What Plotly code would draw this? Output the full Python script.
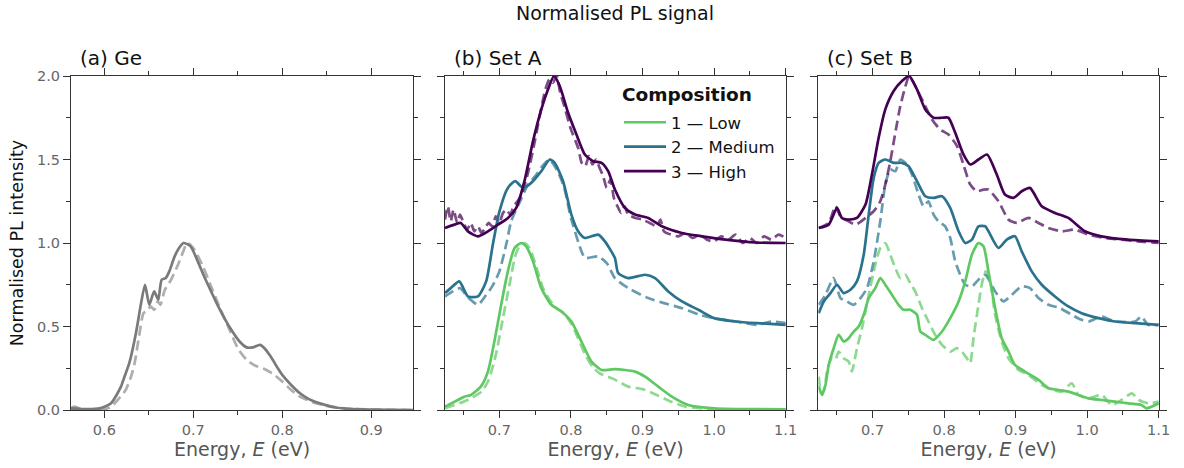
import plotly.graph_objects as go

# ---------------------------------------------------------------------------
# Normalised PL spectra (energy in eV, intensity normalised to peak = 1).
# Series "1" is drawn solid, series "2" dashed.
# ---------------------------------------------------------------------------

# (a) Ge reference
ge_E1 = [0.5625, 0.58, 0.595, 0.6075, 0.6187, 0.622, 0.628, 0.6355, 0.641, 0.6457,
         0.6505, 0.656, 0.6606, 0.6644, 0.669, 0.673, 0.679, 0.684, 0.689, 0.697,
         0.705, 0.713, 0.72, 0.728, 0.736, 0.744, 0.752, 0.76, 0.767, 0.775,
         0.78, 0.787, 0.795, 0.80, 0.81, 0.82, 0.83, 0.845, 0.86, 0.88,
         0.90, 0.947]
ge_I1 = [0.01, 0.005, 0.01, 0.04, 0.14, 0.19, 0.28, 0.46, 0.63, 0.75,
         0.63, 0.71, 0.66, 0.78, 0.79, 0.83, 0.92, 0.97, 1.00, 0.98,
         0.89, 0.79, 0.71, 0.62, 0.54, 0.47, 0.41, 0.375, 0.375, 0.39,
         0.37, 0.32, 0.25, 0.21, 0.15, 0.10, 0.065, 0.035, 0.015, 0.005,
         0.002, 0.0]
ge_E2 = [0.5625, 0.566, 0.575, 0.59, 0.60, 0.608, 0.615, 0.624, 0.630, 0.634,
         0.639, 0.644, 0.6475, 0.652, 0.656, 0.66, 0.663, 0.668, 0.675, 0.682,
         0.688, 0.693, 0.70, 0.71, 0.72, 0.73, 0.74, 0.75, 0.76, 0.77,
         0.78, 0.79, 0.80, 0.81, 0.82, 0.835, 0.85, 0.87, 0.90, 0.947]
ge_I2 = [0.01, 0.02, 0.005, 0.0, 0.005, 0.02, 0.06, 0.12, 0.20, 0.28,
         0.44, 0.58, 0.59, 0.62, 0.60, 0.65, 0.63, 0.72, 0.78, 0.86,
         0.94, 1.0, 0.97, 0.87, 0.74, 0.61, 0.49, 0.37, 0.30, 0.265,
         0.245, 0.215, 0.17, 0.12, 0.08, 0.045, 0.025, 0.01, 0.003, 0.0]

# (b) Set A
a_low_E1 = [0.624, 0.642, 0.651, 0.660, 0.674, 0.684, 0.693, 0.7025, 0.7118, 0.7212,
            0.7305, 0.7375, 0.747, 0.7586, 0.7726, 0.7866, 0.8006, 0.8147, 0.8287, 0.8427,
            0.8614, 0.8895, 0.9035, 0.922, 0.941, 0.964, 1.0, 1.1]
a_low_I1 = [0.02, 0.06, 0.08, 0.09, 0.14, 0.23, 0.41, 0.63, 0.83, 0.97,
            1.0, 0.98, 0.89, 0.73, 0.63, 0.59, 0.53, 0.41, 0.29, 0.24,
            0.245, 0.23, 0.20, 0.14, 0.08, 0.03, 0.01, 0.004]
a_low_E2 = [0.624, 0.65, 0.66, 0.675, 0.685, 0.695, 0.705, 0.715, 0.722, 0.728,
            0.735, 0.742, 0.75, 0.76, 0.77, 0.78, 0.79, 0.80, 0.81, 0.82,
            0.83, 0.84, 0.86, 0.88, 0.90, 0.92, 0.94, 0.96, 1.0, 1.1]
a_low_I2 = [0.01, 0.05, 0.07, 0.11, 0.18, 0.33, 0.55, 0.77, 0.92, 0.98,
            1.0, 0.97, 0.88, 0.74, 0.66, 0.61, 0.58, 0.52, 0.43, 0.33,
            0.26, 0.22, 0.185, 0.14, 0.125, 0.09, 0.05, 0.02, 0.005, 0.0]

a_med_E1 = [0.624, 0.632, 0.644, 0.656, 0.670, 0.6815, 0.6908, 0.7001, 0.7118, 0.7221,
            0.733, 0.7445, 0.7586, 0.7703, 0.7773, 0.789, 0.8006, 0.81, 0.8194, 0.838,
            0.8474, 0.8614, 0.866, 0.88, 0.9035, 0.9175, 0.936, 0.955, 0.978, 1.0,
            1.03, 1.06, 1.1]
a_med_I1 = [0.20, 0.23, 0.27, 0.18, 0.18, 0.27, 0.49, 0.69, 0.83, 0.87,
            0.83, 0.86, 0.93, 1.0, 0.98, 0.87, 0.67, 0.57, 0.53, 0.55,
            0.51, 0.41, 0.32, 0.29, 0.31, 0.29, 0.21, 0.15, 0.10, 0.05,
            0.03, 0.02, 0.01]
a_med_E2 = [0.624, 0.635, 0.645, 0.655, 0.67, 0.68, 0.69, 0.70, 0.71, 0.7165,
            0.73, 0.74, 0.75, 0.76, 0.77, 0.78, 0.79, 0.80, 0.8147, 0.82,
            0.838, 0.85, 0.8614, 0.88, 0.908, 0.93, 0.955, 0.98, 1.0, 1.03,
            1.06, 1.08, 1.1]
a_med_I2 = [0.18, 0.21, 0.23, 0.18, 0.13, 0.18, 0.24, 0.33, 0.50, 0.63,
            0.76, 0.85, 0.90, 0.96, 1.0, 0.94, 0.84, 0.65, 0.45, 0.41,
            0.42, 0.38, 0.29, 0.23, 0.17, 0.14, 0.11, 0.07, 0.05, 0.03,
            0.01, 0.03, 0.02]

a_high_E1 = [0.624, 0.637, 0.646, 0.656, 0.670, 0.684, 0.698, 0.712, 0.7235, 0.735,
             0.747, 0.7586, 0.768, 0.7763, 0.7843, 0.796, 0.8077, 0.8194, 0.831, 0.8427,
             0.852, 0.8614, 0.8754, 0.8895, 0.908, 0.927, 0.955, 0.983, 1.016, 1.058,
             1.1]
a_high_I1 = [0.09, 0.11, 0.12, 0.07, 0.04, 0.07, 0.11, 0.15, 0.21, 0.37,
             0.61, 0.80, 0.92, 1.0, 0.94, 0.78, 0.65, 0.53, 0.49, 0.48,
             0.43, 0.32, 0.21, 0.17, 0.15, 0.10, 0.06, 0.04, 0.02, 0.003,
             0.0]
a_high_E2 = [0.624, 0.628, 0.632, 0.636, 0.641, 0.645, 0.65, 0.655, 0.66, 0.665,
             0.67, 0.675, 0.68, 0.685, 0.69, 0.695, 0.70, 0.705, 0.71, 0.715,
             0.72, 0.73, 0.74, 0.75, 0.76, 0.765, 0.77, 0.775, 0.78, 0.785,
             0.79, 0.80, 0.81, 0.815, 0.82, 0.825, 0.83, 0.835, 0.84, 0.845,
             0.85, 0.855, 0.86, 0.865, 0.87, 0.875, 0.88, 0.89, 0.90, 0.91,
             0.92, 0.925, 0.93, 0.94, 0.95, 0.96, 0.97, 0.98, 0.99, 1.0,
             1.01, 1.02, 1.03, 1.04, 1.05, 1.06, 1.07, 1.08, 1.09, 1.1]
a_high_I2 = [0.14, 0.22, 0.13, 0.20, 0.12, 0.17, 0.12, 0.08, 0.12, 0.07,
             0.10, 0.06, 0.09, 0.12, 0.10, 0.16, 0.12, 0.18, 0.20, 0.17,
             0.22, 0.28, 0.42, 0.62, 0.84, 0.93, 0.98, 0.96, 1.0, 0.90,
             0.83, 0.68, 0.57, 0.48, 0.46, 0.52, 0.47, 0.50, 0.45, 0.40,
             0.33, 0.38, 0.27, 0.22, 0.18, 0.22, 0.17, 0.15, 0.14, 0.12,
             0.10, 0.14, 0.07, 0.05, 0.04, 0.06, 0.03, 0.05, 0.02, 0.01,
             0.04, 0.02, 0.05, 0.00, 0.03, 0.00, 0.04, 0.02, 0.05, 0.03]

# (c) Set B
b_low_E1 = [0.6246, 0.6293, 0.634, 0.6386, 0.6455, 0.6525, 0.6595, 0.6665, 0.6735, 0.6805,
            0.6875, 0.6945, 0.7037, 0.7107, 0.7177, 0.727, 0.7363, 0.7433, 0.7526, 0.762,
            0.7666, 0.7736, 0.7852, 0.797, 0.8085, 0.8202, 0.8295, 0.8388, 0.848, 0.855,
            0.862, 0.8713, 0.8806, 0.89, 0.899, 0.913, 0.932, 0.946, 0.96, 0.9737,
            0.9877, 1.0017, 1.0203, 1.039, 1.058, 1.076, 1.083, 1.1]
b_low_I1 = [0.14, 0.09, 0.15, 0.27, 0.37, 0.45, 0.41, 0.43, 0.47, 0.50,
            0.57, 0.67, 0.73, 0.79, 0.75, 0.69, 0.63, 0.60, 0.60, 0.57,
            0.47, 0.45, 0.42, 0.47, 0.55, 0.65, 0.77, 0.93, 1.0, 0.98,
            0.83, 0.61, 0.43, 0.35, 0.27, 0.23, 0.18, 0.13, 0.12, 0.11,
            0.09, 0.07, 0.06, 0.05, 0.04, 0.03, 0.01, 0.04]
b_low_E2 = [0.6246, 0.628, 0.632, 0.637, 0.6432, 0.648, 0.6525, 0.6595, 0.6665, 0.671,
            0.6735, 0.6781, 0.6851, 0.6945, 0.7037, 0.7107, 0.7177, 0.7247, 0.7317, 0.7387,
            0.7456, 0.7526, 0.7596, 0.769, 0.778, 0.7875, 0.797, 0.8085, 0.8178, 0.8248,
            0.8318, 0.8364, 0.841, 0.848, 0.853, 0.858, 0.864, 0.8713, 0.8806, 0.89,
            0.904, 0.918, 0.9365, 0.946, 0.9645, 0.9784, 0.9877, 1.0017, 1.0203, 1.0343,
            1.048, 1.0626, 1.072, 1.086, 1.1]
b_low_I2 = [0.20, 0.10, 0.12, 0.25, 0.31, 0.30, 0.35, 0.31, 0.29, 0.23,
            0.27, 0.37, 0.49, 0.69, 0.87, 0.97, 1.0, 0.93, 0.85, 0.79,
            0.81, 0.76, 0.71, 0.61, 0.53, 0.45, 0.39, 0.35, 0.37, 0.35,
            0.31, 0.28, 0.43, 0.63, 0.76, 0.83, 0.78, 0.57, 0.41, 0.31,
            0.24, 0.21, 0.15, 0.13, 0.11, 0.16, 0.09, 0.07, 0.09, 0.03,
            0.06, 0.10, 0.06, 0.04, 0.05]

b_med_E1 = [0.6246, 0.6316, 0.641, 0.6502, 0.6595, 0.669, 0.678, 0.6875, 0.6945, 0.7015,
            0.7084, 0.7177, 0.7294, 0.741, 0.7503, 0.762, 0.7736, 0.7852, 0.797, 0.8085,
            0.8202, 0.8295, 0.8388, 0.848, 0.8574, 0.862, 0.876, 0.8876, 0.899, 0.9085,
            0.9225, 0.9365, 0.955, 0.9737, 0.9923, 1.016, 1.039, 1.067, 1.1]
b_med_I1 = [0.08, 0.15, 0.20, 0.25, 0.20, 0.22, 0.27, 0.43, 0.67, 0.89,
            0.98, 1.0, 0.98, 0.98, 0.96, 0.87, 0.78, 0.77, 0.78, 0.71,
            0.57, 0.50, 0.52, 0.60, 0.60, 0.57, 0.47, 0.52, 0.54, 0.45,
            0.33, 0.25, 0.18, 0.12, 0.08, 0.05, 0.03, 0.02, 0.01]
b_med_E2 = [0.6246, 0.634, 0.6455, 0.655, 0.664, 0.6735, 0.683, 0.6921, 0.7015, 0.7107,
            0.7177, 0.7247, 0.7317, 0.7387, 0.748, 0.755, 0.7643, 0.7712, 0.778, 0.7852,
            0.792, 0.8015, 0.8085, 0.8155, 0.8225, 0.8295, 0.8388, 0.848, 0.8574, 0.8713,
            0.883, 0.8946, 0.9085, 0.92, 0.932, 0.946, 0.962, 0.9784, 0.9923, 1.002,
            1.0203, 1.039, 1.067, 1.076, 1.085, 1.1]
b_med_I2 = [0.13, 0.19, 0.29, 0.17, 0.15, 0.13, 0.17, 0.23, 0.39, 0.63,
            0.85, 0.94, 0.93, 1.0, 0.97, 0.91, 0.79, 0.72, 0.75, 0.67,
            0.63, 0.60, 0.53, 0.39, 0.31, 0.25, 0.24, 0.28, 0.31, 0.21,
            0.15, 0.19, 0.24, 0.23, 0.17, 0.13, 0.11, 0.07, 0.04, 0.03,
            0.06, 0.03, 0.03, 0.06, 0.01, 0.01]

b_high_E1 = [0.6246, 0.6386, 0.6502, 0.657, 0.6665, 0.678, 0.690, 0.699, 0.7084, 0.7177,
             0.7294, 0.741, 0.751, 0.762, 0.7736, 0.7852, 0.797, 0.806, 0.8155, 0.827,
             0.8365, 0.848, 0.86, 0.8736, 0.885, 0.897, 0.9085, 0.92, 0.9365, 0.955,
             0.9737, 0.997, 1.02, 1.057, 1.1]
b_high_I1 = [0.09, 0.11, 0.21, 0.15, 0.14, 0.15, 0.23, 0.41, 0.63, 0.80,
             0.91, 0.97, 1.0, 0.92, 0.80, 0.75, 0.75, 0.75, 0.66, 0.53,
             0.47, 0.50, 0.53, 0.41, 0.29, 0.27, 0.31, 0.33, 0.22, 0.18,
             0.15, 0.07, 0.04, 0.02, 0.01]
b_high_E2 = [0.6246, 0.6386, 0.648, 0.655, 0.6665, 0.676, 0.69, 0.7015, 0.7107, 0.7177,
             0.7247, 0.7317, 0.7387, 0.7466, 0.751, 0.7596, 0.7712, 0.783, 0.7945, 0.806,
             0.818, 0.827, 0.8365, 0.8457, 0.855, 0.862, 0.876, 0.89, 0.9015, 0.918,
             0.932, 0.9457, 0.9645, 0.983, 1.0017, 1.025, 1.048, 1.071, 1.1]
b_high_I2 = [0.09, 0.12, 0.22, 0.16, 0.13, 0.11, 0.15, 0.19, 0.25, 0.35,
             0.49, 0.66, 0.82, 0.95, 1.0, 0.94, 0.84, 0.74, 0.68, 0.65,
             0.58, 0.47, 0.35, 0.31, 0.32, 0.32, 0.25, 0.14, 0.12, 0.15,
             0.12, 0.09, 0.07, 0.08, 0.05, 0.03, 0.02, 0.01, 0.0]

# Composition labels, vertical offsets used to stack the spectra, colours
compositions = ["1 \u2014 Low", "2 \u2014 Medium", "3 \u2014 High"]
offsets = [0.0, 0.5, 1.0]
colors = ["#5ec962", "#2a728e", "#440154"]

panel_titles = ["(a) Ge", "(b) Set A", "(c) Set B"]

FONT = "DejaVu Sans"
AXIS_COLOR = "#333333"
TICK_TEXT = "#666666"

fig = go.Figure()


def add_line(x, y, axis, color, dashed, opacity=1.0, name=None, legend=False):
    fig.add_trace(go.Scatter(
        x=x, y=y, mode="lines", xaxis="x" + axis, yaxis="y" + axis,
        name=name, showlegend=legend, opacity=opacity,
        line=dict(color=color, width=2.7, dash="10px,5px" if dashed else "solid",
                  shape="spline", smoothing=0.6),
        hoverinfo="skip",
    ))


# (a) Ge
add_line(ge_E2, ge_I2, "", "#9a9a9a", True, opacity=0.8)
add_line(ge_E1, ge_I1, "", "#7a7a7a", False)

# (b) and (c): dashed series first, solid on top
set_a = [(a_low_E1, a_low_I1, a_low_E2, a_low_I2),
         (a_med_E1, a_med_I1, a_med_E2, a_med_I2),
         (a_high_E1, a_high_I1, a_high_E2, a_high_I2)]
set_b = [(b_low_E1, b_low_I1, b_low_E2, b_low_I2),
         (b_med_E1, b_med_I1, b_med_E2, b_med_I2),
         (b_high_E1, b_high_I1, b_high_E2, b_high_I2)]

for axis, data, with_legend in (("2", set_a, True), ("3", set_b, False)):
    for i, (E1, I1, E2, I2) in enumerate(data):
        off = offsets[i]
        add_line(E2, [v + off for v in I2], axis, colors[i], True, opacity=0.7)
    for i, (E1, I1, E2, I2) in enumerate(data):
        off = offsets[i]
        add_line(E1, [v + off for v in I1], axis, colors[i], False,
                 name=compositions[i], legend=with_legend)

# Axes ---------------------------------------------------------------------
W, H = 1184, 468
ML, MR, MT, MB = 71, 25, 76, 58
plot_w = W - ML - MR
plot_h = H - MT - MB
doms = [(0, 342), (374, 715), (747.3, plot_w)]
domains = [[a / plot_w, b / plot_w] for a, b in doms]

common_x = dict(
    showline=True, linecolor=AXIS_COLOR, linewidth=1, mirror="ticks",
    ticks="outside", ticklen=7, tickwidth=1, tickcolor=AXIS_COLOR,
    showgrid=False, zeroline=False, tickformat=".1f",
    tickfont=dict(family=FONT, size=14.5, color=TICK_TEXT),
    title=dict(text="Energy, <i>E</i> (eV)", standoff=3,
               font=dict(family=FONT, size=19, color="#555555")),
)
common_y = dict(
    showline=True, linecolor=AXIS_COLOR, linewidth=1, mirror="ticks",
    ticks="outside", ticklen=7, tickwidth=1, tickcolor=AXIS_COLOR,
    showgrid=False, zeroline=False, range=[0, 2],
    tickmode="array", tickvals=[0, 0.5, 1.0, 1.5, 2.0], tickformat=".1f",
    tickfont=dict(family=FONT, size=14.5, color=TICK_TEXT),
    minor=dict(tickmode="array", tickvals=[0.25, 0.75, 1.25, 1.75],
               ticks="outside", ticklen=4, tickcolor=AXIS_COLOR, showgrid=False),
)

x_ranges = [[0.5625, 0.947], [0.624, 1.1005], [0.624, 1.1005]]
x_major = [[0.6, 0.7, 0.8, 0.9], [0.7, 0.8, 0.9, 1.0, 1.1], [0.7, 0.8, 0.9, 1.0, 1.1]]
x_minor = [[0.6, 0.65, 0.7, 0.75, 0.8, 0.85, 0.9],
           [0.65, 0.7, 0.75, 0.8, 0.85, 0.9, 0.95, 1.0, 1.05, 1.1],
           [0.65, 0.7, 0.75, 0.8, 0.85, 0.9, 0.95, 1.0, 1.05, 1.1]]

layout_axes = {}
for k in range(3):
    sfx = "" if k == 0 else str(k + 1)
    xa = dict(common_x)
    xa.update(domain=domains[k], range=x_ranges[k], anchor="y" + sfx,
              tickmode="array", tickvals=x_major[k],
              minor=dict(tickmode="array", tickvals=x_minor[k], ticks="outside",
                         ticklen=4, tickcolor=AXIS_COLOR, showgrid=False))
    ya = dict(common_y)
    ya.update(anchor="x" + sfx, domain=[0, 1], showticklabels=(k == 0))
    if k == 0:
        ya["title"] = dict(text="Normalised PL intensity", standoff=8,
                           font=dict(family=FONT, size=17.5, color="#111111"))
    layout_axes["xaxis" + sfx] = xa
    layout_axes["yaxis" + sfx] = ya

annotations = []
for k, t in enumerate(panel_titles):
    sfx = "" if k == 0 else str(k + 1)
    annotations.append(dict(
        text=t, xref="x" + sfx + " domain", yref="y" + sfx + " domain",
        x=0, y=1, xanchor="left", yanchor="bottom", xshift=7, yshift=4,
        showarrow=False, font=dict(family=FONT, size=20, color="#111111"),
    ))

# Legend heading placed above the legend entries
annotations.append(dict(
    text="<b>Composition</b>", xref="paper", yref="paper",
    x=(620 - ML) / plot_w, y=(H - MB - 95) / plot_h,
    xanchor="left", yanchor="middle", showarrow=False,
    font=dict(family=FONT, size=18.5, color="#111111"),
))

fig.update_layout(
    width=W, height=H,
    margin=dict(l=ML, r=MR, t=MT, b=MB),
    paper_bgcolor="white", plot_bgcolor="white",
    font=dict(family=FONT, color="#111111"),
    title=dict(text="Normalised PL signal", xref="paper", x=0.5, xanchor="center",
               y=1 - 13 / H, yanchor="middle",
               font=dict(family=FONT, size=19, color="#111111")),
    legend=dict(
        x=(619 - ML) / plot_w, y=(H - MB - 105) / plot_h,
        xanchor="left", yanchor="top",
        bgcolor="rgba(255,255,255,0)", borderwidth=0,
        font=dict(family=FONT, size=16.5, color="#111111"),
        itemwidth=42, tracegroupgap=0,
    ),
    annotations=annotations,
    **layout_axes,
)

fig.write_html("out.html")
